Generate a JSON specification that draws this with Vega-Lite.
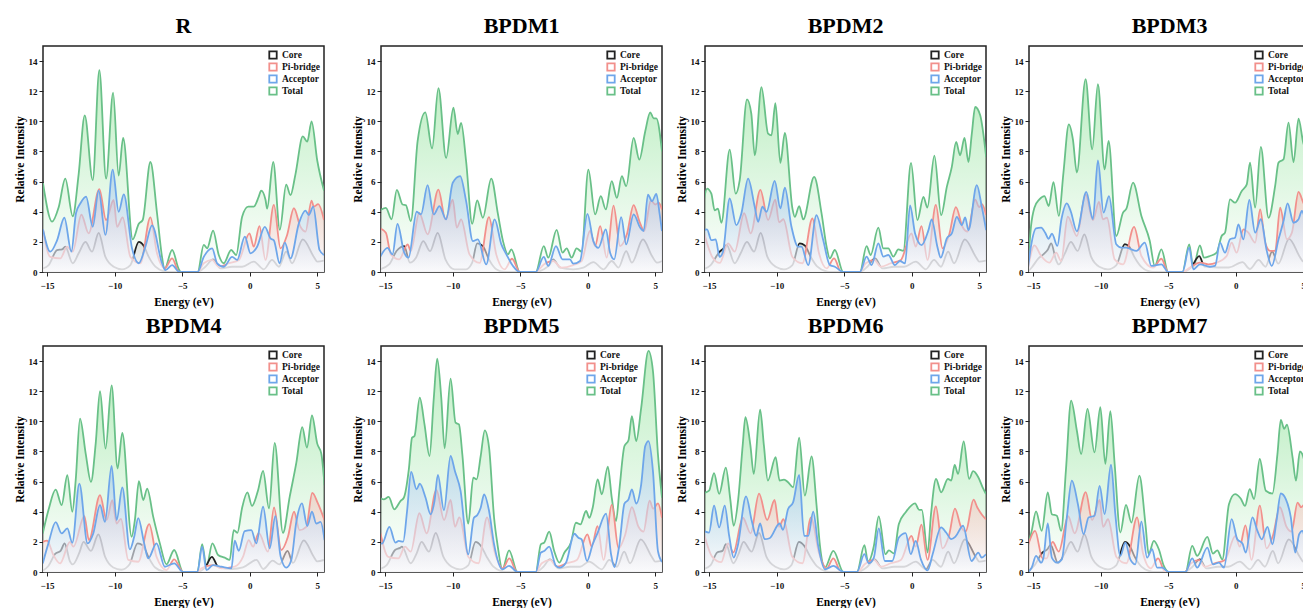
{
"$schema":"https://vega.github.io/schema/vega-lite/v6.json",
"background":"white",
"padding":{"left":13,"top":14,"right":0,"bottom":0},
"spacing":5,
"resolve":{"scale":{"color":"independent"},"legend":{"color":"independent"}},
"config":{
"view":{"stroke":"#222","strokeWidth":1.5},
"axis":{"grid":false,"domain":false,"labelFlush":false,"labelFont":"Liberation Serif","labelFontWeight":"bold","labelFontSize":9,"labelColor":"#111","titleFont":"Liberation Serif","titleFontWeight":"bold","titleFontSize":11.5,"titleColor":"#000","tickColor":"#222","tickSize":4,"tickWidth":1,"labelPadding":2},
"axisX":{"titlePadding":6,"labelPadding":5},
"axisY":{"titlePadding":3},
"title":{"font":"Liberation Serif","fontSize":22,"fontWeight":"bold","color":"#000","offset":8},
"line":{"strokeWidth":1.8},
"legend":{"orient":"top-right","offset":4,"padding":0,"labelFont":"Liberation Serif","labelFontWeight":"bold","labelFontSize":9.5,"labelColor":"#111","symbolType":"square","symbolSize":55,"symbolStrokeWidth":1.5,"clipHeight":10,"rowPadding":2,"labelOffset":4}
},
"vconcat":[
{"spacing":26,"resolve":{"scale":{"color":"independent"},"legend":{"color":"independent"}},"hconcat":[
{"title":"R","width":281,"height":226,
"encoding":{"x":{"field":"x","type":"quantitative","scale":{"domain":[-15.3,5.5],"nice":false,"zero":false},"axis":{"values":[-15,-10,-5,0,5],"title":"Energy (eV)"}},"y":{"field":"y","type":"quantitative","scale":{"domain":[0,15],"nice":false},"axis":{"values":[0,2,4,6,8,10,12,14],"title":"Relative Intensity"}}},
"layer":[
{"data":{"values":[{"x":-15.3,"y":5.9},{"x":-14.63,"y":3.34},{"x":-14.14,"y":4.3},{"x":-13.65,"y":6.2},{"x":-13.1,"y":3.7},{"x":-12.66,"y":6.5},{"x":-12.21,"y":10.4},{"x":-11.62,"y":6.1},{"x":-11.13,"y":13.4},{"x":-10.63,"y":6.2},{"x":-10.11,"y":11.9},{"x":-9.7,"y":6.4},{"x":-9.37,"y":8.9},{"x":-8.66,"y":2.17},{"x":-8.21,"y":3.2},{"x":-7.92,"y":3.45},{"x":-7.35,"y":7.3},{"x":-6.86,"y":3.9},{"x":-6.49,"y":1.0},{"x":-6.31,"y":0.18},{"x":-5.74,"y":1.46},{"x":-5.25,"y":0.18},{"x":-5.1,"y":0},{"x":-3.85,"y":0},{"x":-3.4,"y":1.8},{"x":-3.15,"y":1.57},{"x":-2.71,"y":2.74},{"x":-2.29,"y":1.13},{"x":-1.92,"y":0.58},{"x":-1.37,"y":1.46},{"x":-1.0,"y":1.13},{"x":-0.56,"y":3.67},{"x":-0.11,"y":4.34},{"x":0.3,"y":4.34},{"x":0.67,"y":5.0},{"x":0.85,"y":5.4},{"x":1.17,"y":4.8},{"x":1.29,"y":4.2},{"x":1.74,"y":7.3},{"x":2.23,"y":2.8},{"x":2.7,"y":5.8},{"x":3.02,"y":5.1},{"x":3.39,"y":6.5},{"x":3.93,"y":9.0},{"x":4.26,"y":8.65},{"x":4.58,"y":10.0},{"x":5.0,"y":7.4},{"x":5.5,"y":5.4}]},
"layer":[{"mark":{"type":"area","interpolate":"monotone","clip":true,"fill":{"gradient":"linear","x1":0,"y1":0,"x2":0,"y2":1,"stops":[{"offset":0,"color":"rgba(140,225,150,0.55)"},{"offset":1,"color":"rgba(255,255,255,0.6)"}]}}},
{"mark":{"type":"line","interpolate":"monotone","clip":true},"encoding":{"color":{"datum":"Total","scale":{"domain":["Core","Pi-bridge","Acceptor","Total"],"range":["#222222","#f2908c","#6ea6ea","#69c088"]},"legend":{"title":null,"encode":{"symbols":{"update":{"fill":{"signal":"datum.value==='Core'?'#ececec':datum.value==='Pi-bridge'?'#fde5e3':datum.value==='Acceptor'?'#dde9fb':'#dcf3e2'"},"fillOpacity":{"value":1}}}}}}}}]},
{"data":{"values":[{"x":-15.3,"y":0.24},{"x":-14.88,"y":0.46},{"x":-14.26,"y":1.46},{"x":-13.89,"y":1.5},{"x":-13.65,"y":1.68},{"x":-13.1,"y":0.58},{"x":-12.66,"y":1.24},{"x":-12.16,"y":2.0},{"x":-11.67,"y":1.35},{"x":-11.18,"y":2.6},{"x":-10.68,"y":1.0},{"x":-10.07,"y":0.35},{"x":-9.45,"y":0.18},{"x":-8.83,"y":0.46},{"x":-8.21,"y":2.0},{"x":-7.84,"y":1.73},{"x":-7.47,"y":1.0},{"x":-6.98,"y":0.35},{"x":-6.24,"y":0.02},{"x":-6.0,"y":0},{"x":-3.85,"y":0},{"x":-3.28,"y":0.35},{"x":-2.71,"y":0.84},{"x":-2.17,"y":0.24},{"x":-1.3,"y":0.35},{"x":-0.56,"y":0.35},{"x":0.3,"y":0.69},{"x":1.04,"y":0.18},{"x":1.66,"y":0.8},{"x":2.16,"y":0.35},{"x":2.7,"y":1.35},{"x":3.14,"y":0.58},{"x":3.93,"y":2.17},{"x":4.75,"y":1.0},{"x":5.0,"y":0.69},{"x":5.5,"y":0.75}]},
"layer":[{"mark":{"type":"area","interpolate":"monotone","clip":true,"fill":{"gradient":"linear","x1":0,"y1":0,"x2":0,"y2":1,"stops":[{"offset":0,"color":"rgba(165,165,165,0.35)"},{"offset":1,"color":"rgba(245,245,245,0.4)"}]}}},
{"mark":{"type":"line","interpolate":"monotone","clip":true},"encoding":{"color":{"datum":"Core","scale":{"domain":["Core","Pi-bridge","Acceptor","Total"],"range":["#222222","#f2908c","#6ea6ea","#69c088"]}}}}]},
{"data":{"values":[{"x":-15.3,"y":2.8},{"x":-14.76,"y":1.0},{"x":-14.02,"y":0.9},{"x":-13.52,"y":1.68},{"x":-13.1,"y":1.35},{"x":-12.46,"y":3.8},{"x":-11.92,"y":2.57},{"x":-11.13,"y":5.5},{"x":-10.63,"y":3.45},{"x":-10.07,"y":4.78},{"x":-9.82,"y":3.0},{"x":-9.4,"y":3.63},{"x":-8.83,"y":1.0},{"x":-8.09,"y":0.58},{"x":-7.35,"y":3.63},{"x":-6.86,"y":1.24},{"x":-6.29,"y":0.24},{"x":-5.74,"y":0.9},{"x":-5.25,"y":0.02},{"x":-5.1,"y":0},{"x":-3.85,"y":0},{"x":-3.4,"y":0.58},{"x":-2.78,"y":0.8},{"x":-2.29,"y":0.35},{"x":-1.55,"y":0.58},{"x":-0.8,"y":0.8},{"x":-0.02,"y":2.57},{"x":0.3,"y":1.68},{"x":0.72,"y":3.05},{"x":1.17,"y":0.8},{"x":1.79,"y":4.45},{"x":2.28,"y":1.57},{"x":2.77,"y":2.46},{"x":3.27,"y":4.23},{"x":3.76,"y":3.0},{"x":4.13,"y":2.68},{"x":4.58,"y":4.73},{"x":4.75,"y":4.34},{"x":5.07,"y":4.5},{"x":5.5,"y":3.45}]},
"layer":[{"mark":{"type":"area","interpolate":"monotone","clip":true,"fill":{"gradient":"linear","x1":0,"y1":0,"x2":0,"y2":1,"stops":[{"offset":0,"color":"rgba(245,170,165,0.4)"},{"offset":1,"color":"rgba(250,250,252,0.6)"}]}}},
{"mark":{"type":"line","interpolate":"monotone","clip":true},"encoding":{"color":{"datum":"Pi-bridge","scale":{"domain":["Core","Pi-bridge","Acceptor","Total"],"range":["#222222","#f2908c","#6ea6ea","#69c088"]}}}}]},
{"data":{"values":[{"x":-15.3,"y":2.83},{"x":-14.76,"y":1.35},{"x":-14.26,"y":2.1},{"x":-13.72,"y":3.6},{"x":-13.2,"y":1.35},{"x":-12.86,"y":3.9},{"x":-12.53,"y":4.56},{"x":-12.11,"y":5.0},{"x":-11.62,"y":3.0},{"x":-11.18,"y":5.4},{"x":-10.68,"y":2.46},{"x":-10.14,"y":6.8},{"x":-9.7,"y":4.0},{"x":-9.32,"y":5.15},{"x":-8.71,"y":1.57},{"x":-8.21,"y":0.58},{"x":-7.72,"y":1.68},{"x":-7.23,"y":3.1},{"x":-6.49,"y":0.58},{"x":-6.24,"y":0.13},{"x":-5.74,"y":0.46},{"x":-5.25,"y":0.02},{"x":-5.1,"y":0},{"x":-3.85,"y":0},{"x":-3.4,"y":1.0},{"x":-2.78,"y":1.57},{"x":-2.41,"y":0.58},{"x":-1.92,"y":0.35},{"x":-1.3,"y":1.0},{"x":-0.93,"y":0.8},{"x":-0.36,"y":2.35},{"x":0.06,"y":1.24},{"x":0.55,"y":1.68},{"x":1.12,"y":3.0},{"x":1.54,"y":2.23},{"x":1.79,"y":2.1},{"x":2.21,"y":0.58},{"x":2.6,"y":1.95},{"x":3.02,"y":0.9},{"x":3.64,"y":3.23},{"x":4.13,"y":4.07},{"x":4.38,"y":3.78},{"x":4.7,"y":4.34},{"x":5.17,"y":1.46},{"x":5.5,"y":1.13}]},
"layer":[{"mark":{"type":"area","interpolate":"monotone","clip":true,"fill":{"gradient":"linear","x1":0,"y1":0,"x2":0,"y2":1,"stops":[{"offset":0,"color":"rgba(150,190,235,0.5)"},{"offset":1,"color":"rgba(250,250,252,0.65)"}]}}},
{"mark":{"type":"line","interpolate":"monotone","clip":true},"encoding":{"color":{"datum":"Acceptor","scale":{"domain":["Core","Pi-bridge","Acceptor","Total"],"range":["#222222","#f2908c","#6ea6ea","#69c088"]}}}}]}
]},
{"spacing":12,"resolve":{"scale":{"color":"independent"},"legend":{"color":"independent"}},"hconcat":[
{"title":"BPDM1","width":281,"height":226,
"encoding":{"x":{"field":"x","type":"quantitative","scale":{"domain":[-15.3,5.5],"nice":false,"zero":false},"axis":{"values":[-15,-10,-5,0,5],"title":"Energy (eV)"}},"y":{"field":"y","type":"quantitative","scale":{"domain":[0,15],"nice":false},"axis":{"values":[0,2,4,6,8,10,12,14],"title":"Relative Intensity"}}},
"layer":[
{"data":{"values":[{"x":-15.39,"y":4.08},{"x":-14.94,"y":4.26},{"x":-14.52,"y":3.5},{"x":-14.13,"y":5.45},{"x":-13.7,"y":4.48},{"x":-13.46,"y":4.44},{"x":-13.09,"y":3.38},{"x":-12.59,"y":8.68},{"x":-12.02,"y":10.6},{"x":-11.52,"y":8.2},{"x":-11.05,"y":12.2},{"x":-10.48,"y":7.57},{"x":-9.94,"y":10.9},{"x":-9.62,"y":9.16},{"x":-9.37,"y":9.9},{"x":-9.0,"y":7.35},{"x":-8.55,"y":3.2},{"x":-8.18,"y":4.75},{"x":-7.76,"y":3.6},{"x":-7.14,"y":6.2},{"x":-6.64,"y":3.82},{"x":-6.27,"y":2.05},{"x":-5.9,"y":1.17},{"x":-5.65,"y":1.5},{"x":-5.03,"y":0},{"x":-3.84,"y":0},{"x":-3.25,"y":1.72},{"x":-2.92,"y":0.95},{"x":-2.3,"y":2.8},{"x":-1.86,"y":1.28},{"x":-1.56,"y":1.57},{"x":-1.19,"y":0.95},{"x":-0.82,"y":1.57},{"x":-0.45,"y":1.35},{"x":0.05,"y":6.8},{"x":0.55,"y":3.82},{"x":0.97,"y":5.03},{"x":1.34,"y":4.15},{"x":1.78,"y":6.03},{"x":2.16,"y":4.92},{"x":2.53,"y":6.36},{"x":2.85,"y":5.7},{"x":3.4,"y":8.9},{"x":3.82,"y":7.46},{"x":4.26,"y":9.34},{"x":4.63,"y":10.6},{"x":4.88,"y":10.2},{"x":5.08,"y":10.2},{"x":5.5,"y":8.0}]},
"layer":[{"mark":{"type":"area","interpolate":"monotone","clip":true,"fill":{"gradient":"linear","x1":0,"y1":0,"x2":0,"y2":1,"stops":[{"offset":0,"color":"rgba(140,225,150,0.55)"},{"offset":1,"color":"rgba(255,255,255,0.6)"}]}}},
{"mark":{"type":"line","interpolate":"monotone","clip":true},"encoding":{"color":{"datum":"Total","scale":{"domain":["Core","Pi-bridge","Acceptor","Total"],"range":["#222222","#f2908c","#6ea6ea","#69c088"]},"legend":{"title":null,"encode":{"symbols":{"update":{"fill":{"signal":"datum.value==='Core'?'#ececec':datum.value==='Pi-bridge'?'#fde5e3':datum.value==='Acceptor'?'#dde9fb':'#dcf3e2'"},"fillOpacity":{"value":1}}}}}}}}]},
{"data":{"values":[{"x":-15.39,"y":0.18},{"x":-14.7,"y":0.5},{"x":-14.15,"y":1.39},{"x":-13.58,"y":1.72},{"x":-13.16,"y":0.62},{"x":-12.71,"y":0.95},{"x":-12.17,"y":2.05},{"x":-11.67,"y":1.39},{"x":-11.1,"y":2.6},{"x":-10.53,"y":0.84},{"x":-9.86,"y":0.18},{"x":-9.0,"y":0.18},{"x":-8.55,"y":0.62},{"x":-8.18,"y":1.9},{"x":-7.76,"y":1.72},{"x":-7.31,"y":0.84},{"x":-6.77,"y":0.18},{"x":-6.15,"y":0},{"x":-3.84,"y":0},{"x":-3.25,"y":0.18},{"x":-2.8,"y":0.5},{"x":-2.55,"y":0.84},{"x":-2.06,"y":0.29},{"x":-1.07,"y":0.18},{"x":-0.32,"y":0.29},{"x":0.42,"y":0.66},{"x":1.16,"y":0.18},{"x":1.78,"y":0.73},{"x":2.28,"y":0.29},{"x":2.85,"y":1.39},{"x":3.27,"y":0.62},{"x":4.09,"y":2.16},{"x":4.76,"y":1.06},{"x":5.13,"y":0.62},{"x":5.5,"y":0.73}]},
"layer":[{"mark":{"type":"area","interpolate":"monotone","clip":true,"fill":{"gradient":"linear","x1":0,"y1":0,"x2":0,"y2":1,"stops":[{"offset":0,"color":"rgba(165,165,165,0.35)"},{"offset":1,"color":"rgba(245,245,245,0.4)"}]}}},
{"mark":{"type":"line","interpolate":"monotone","clip":true},"encoding":{"color":{"datum":"Core","scale":{"domain":["Core","Pi-bridge","Acceptor","Total"],"range":["#222222","#f2908c","#6ea6ea","#69c088"]}}}}]},
{"data":{"values":[{"x":-15.39,"y":2.9},{"x":-14.94,"y":2.6},{"x":-14.57,"y":1.17},{"x":-13.95,"y":0.84},{"x":-13.33,"y":1.83},{"x":-13.09,"y":1.39},{"x":-12.47,"y":3.93},{"x":-11.85,"y":2.5},{"x":-11.05,"y":5.47},{"x":-10.53,"y":3.49},{"x":-9.99,"y":4.8},{"x":-9.69,"y":2.94},{"x":-9.37,"y":3.49},{"x":-8.75,"y":1.17},{"x":-8.0,"y":0.6},{"x":-7.31,"y":3.64},{"x":-6.77,"y":1.17},{"x":-6.15,"y":0.18},{"x":-5.6,"y":0.88},{"x":-5.03,"y":0},{"x":-3.84,"y":0},{"x":-3.25,"y":0.5},{"x":-2.55,"y":0.73},{"x":-1.93,"y":0.29},{"x":-1.07,"y":0.46},{"x":-0.45,"y":0.73},{"x":0.17,"y":2.72},{"x":0.55,"y":1.72},{"x":0.92,"y":3.05},{"x":1.41,"y":0.95},{"x":1.91,"y":4.41},{"x":2.4,"y":1.72},{"x":2.9,"y":2.5},{"x":3.4,"y":4.44},{"x":3.84,"y":3.33},{"x":4.19,"y":2.72},{"x":4.68,"y":4.75},{"x":5.0,"y":4.48},{"x":5.25,"y":4.6},{"x":5.5,"y":4.15}]},
"layer":[{"mark":{"type":"area","interpolate":"monotone","clip":true,"fill":{"gradient":"linear","x1":0,"y1":0,"x2":0,"y2":1,"stops":[{"offset":0,"color":"rgba(245,170,165,0.4)"},{"offset":1,"color":"rgba(250,250,252,0.6)"}]}}},
{"mark":{"type":"line","interpolate":"monotone","clip":true},"encoding":{"color":{"datum":"Pi-bridge","scale":{"domain":["Core","Pi-bridge","Acceptor","Total"],"range":["#222222","#f2908c","#6ea6ea","#69c088"]}}}}]},
{"data":{"values":[{"x":-15.39,"y":0.95},{"x":-14.82,"y":1.6},{"x":-14.45,"y":1.17},{"x":-14.08,"y":3.2},{"x":-13.58,"y":1.28},{"x":-13.26,"y":0.95},{"x":-12.66,"y":4.0},{"x":-12.34,"y":3.82},{"x":-11.85,"y":5.76},{"x":-11.4,"y":3.82},{"x":-10.98,"y":4.37},{"x":-10.48,"y":3.49},{"x":-9.99,"y":5.92},{"x":-9.44,"y":6.36},{"x":-9.0,"y":4.7},{"x":-8.5,"y":2.05},{"x":-8.13,"y":2.16},{"x":-7.51,"y":0.5},{"x":-6.89,"y":3.49},{"x":-6.39,"y":1.83},{"x":-6.02,"y":1.17},{"x":-5.53,"y":0.4},{"x":-5.03,"y":0},{"x":-3.84,"y":0},{"x":-3.25,"y":1.0},{"x":-2.92,"y":0.4},{"x":-2.35,"y":1.72},{"x":-1.86,"y":0.84},{"x":-1.31,"y":0.84},{"x":-1.07,"y":0.55},{"x":-0.57,"y":0.73},{"x":-0.02,"y":3.86},{"x":0.42,"y":2.05},{"x":0.79,"y":1.6},{"x":1.34,"y":2.83},{"x":1.66,"y":1.28},{"x":1.96,"y":0.84},{"x":2.48,"y":3.64},{"x":2.85,"y":1.83},{"x":3.4,"y":3.82},{"x":3.89,"y":2.94},{"x":4.14,"y":2.72},{"x":4.46,"y":5.14},{"x":4.76,"y":4.7},{"x":5.08,"y":5.19},{"x":5.33,"y":3.82},{"x":5.5,"y":2.72}]},
"layer":[{"mark":{"type":"area","interpolate":"monotone","clip":true,"fill":{"gradient":"linear","x1":0,"y1":0,"x2":0,"y2":1,"stops":[{"offset":0,"color":"rgba(150,190,235,0.5)"},{"offset":1,"color":"rgba(250,250,252,0.65)"}]}}},
{"mark":{"type":"line","interpolate":"monotone","clip":true},"encoding":{"color":{"datum":"Acceptor","scale":{"domain":["Core","Pi-bridge","Acceptor","Total"],"range":["#222222","#f2908c","#6ea6ea","#69c088"]}}}}]}
]},
{"title":"BPDM2","width":281,"height":226,
"encoding":{"x":{"field":"x","type":"quantitative","scale":{"domain":[-15.3,5.5],"nice":false,"zero":false},"axis":{"values":[-15,-10,-5,0,5],"title":"Energy (eV)"}},"y":{"field":"y","type":"quantitative","scale":{"domain":[0,15],"nice":false},"axis":{"values":[0,2,4,6,8,10,12,14],"title":"Relative Intensity"}}},
"layer":[
{"data":{"values":[{"x":-15.38,"y":4.77},{"x":-15.15,"y":5.54},{"x":-14.83,"y":5.2},{"x":-14.59,"y":4.1},{"x":-14.34,"y":4.2},{"x":-14.09,"y":3.27},{"x":-13.47,"y":8.12},{"x":-13.03,"y":5.2},{"x":-12.73,"y":6.1},{"x":-12.19,"y":11.46},{"x":-11.87,"y":10.5},{"x":-11.62,"y":7.75},{"x":-11.12,"y":12.27},{"x":-10.63,"y":9.18},{"x":-10.38,"y":9.07},{"x":-10.09,"y":11.2},{"x":-9.72,"y":7.24},{"x":-9.39,"y":9.23},{"x":-8.83,"y":4.22},{"x":-8.65,"y":3.66},{"x":-8.33,"y":4.37},{"x":-8.03,"y":3.49},{"x":-7.22,"y":6.31},{"x":-6.67,"y":3.88},{"x":-6.3,"y":1.68},{"x":-6.06,"y":0.9},{"x":-5.69,"y":1.46},{"x":-5.07,"y":0},{"x":-3.83,"y":0},{"x":-3.34,"y":1.72},{"x":-3.04,"y":1.13},{"x":-2.47,"y":2.94},{"x":-2.1,"y":1.57},{"x":-1.73,"y":1.57},{"x":-1.36,"y":1.02},{"x":-0.99,"y":1.5},{"x":-0.62,"y":1.41},{"x":-0.05,"y":7.24},{"x":0.42,"y":3.44},{"x":0.87,"y":4.99},{"x":1.16,"y":4.28},{"x":1.68,"y":7.73},{"x":2.18,"y":3.77},{"x":2.6,"y":5.65},{"x":2.97,"y":6.98},{"x":3.29,"y":8.63},{"x":3.58,"y":7.75},{"x":3.91,"y":8.9},{"x":4.2,"y":7.3},{"x":4.45,"y":9.18},{"x":4.7,"y":10.95},{"x":5.07,"y":10.4},{"x":5.51,"y":7.64}]},
"layer":[{"mark":{"type":"area","interpolate":"monotone","clip":true,"fill":{"gradient":"linear","x1":0,"y1":0,"x2":0,"y2":1,"stops":[{"offset":0,"color":"rgba(140,225,150,0.55)"},{"offset":1,"color":"rgba(255,255,255,0.6)"}]}}},
{"mark":{"type":"line","interpolate":"monotone","clip":true},"encoding":{"color":{"datum":"Total","scale":{"domain":["Core","Pi-bridge","Acceptor","Total"],"range":["#222222","#f2908c","#6ea6ea","#69c088"]},"legend":{"title":null,"encode":{"symbols":{"update":{"fill":{"signal":"datum.value==='Core'?'#ececec':datum.value==='Pi-bridge'?'#fde5e3':datum.value==='Acceptor'?'#dde9fb':'#dcf3e2'"},"fillOpacity":{"value":1}}}}}}}}]},
{"data":{"values":[{"x":-15.38,"y":0.2},{"x":-14.88,"y":0.46},{"x":-14.26,"y":1.3},{"x":-13.89,"y":1.6},{"x":-13.7,"y":1.8},{"x":-13.1,"y":0.58},{"x":-12.66,"y":1.24},{"x":-12.2,"y":2.0},{"x":-11.67,"y":1.35},{"x":-11.18,"y":2.6},{"x":-10.68,"y":1.0},{"x":-10.07,"y":0.35},{"x":-9.45,"y":0.18},{"x":-8.83,"y":0.46},{"x":-8.3,"y":1.9},{"x":-7.9,"y":1.75},{"x":-7.47,"y":1.0},{"x":-6.98,"y":0.35},{"x":-6.24,"y":0.02},{"x":-6.0,"y":0},{"x":-3.85,"y":0},{"x":-3.28,"y":0.35},{"x":-2.71,"y":0.9},{"x":-2.17,"y":0.24},{"x":-1.3,"y":0.35},{"x":-0.56,"y":0.35},{"x":0.3,"y":0.69},{"x":1.04,"y":0.18},{"x":1.66,"y":0.8},{"x":2.16,"y":0.35},{"x":2.7,"y":1.35},{"x":3.14,"y":0.58},{"x":3.93,"y":2.17},{"x":4.75,"y":1.0},{"x":5.0,"y":0.69},{"x":5.5,"y":0.75}]},
"layer":[{"mark":{"type":"area","interpolate":"monotone","clip":true,"fill":{"gradient":"linear","x1":0,"y1":0,"x2":0,"y2":1,"stops":[{"offset":0,"color":"rgba(165,165,165,0.35)"},{"offset":1,"color":"rgba(245,245,245,0.4)"}]}}},
{"mark":{"type":"line","interpolate":"monotone","clip":true},"encoding":{"color":{"datum":"Core","scale":{"domain":["Core","Pi-bridge","Acceptor","Total"],"range":["#222222","#f2908c","#6ea6ea","#69c088"]}}}}]},
{"data":{"values":[{"x":-15.38,"y":2.6},{"x":-14.76,"y":1.0},{"x":-14.2,"y":0.6},{"x":-13.6,"y":1.9},{"x":-13.1,"y":1.35},{"x":-12.4,"y":3.9},{"x":-11.92,"y":2.57},{"x":-11.2,"y":5.45},{"x":-10.63,"y":3.45},{"x":-10.1,"y":4.8},{"x":-9.82,"y":3.3},{"x":-9.5,"y":3.5},{"x":-8.83,"y":1.0},{"x":-8.09,"y":0.58},{"x":-7.35,"y":3.55},{"x":-6.86,"y":1.24},{"x":-6.29,"y":0.24},{"x":-5.74,"y":0.9},{"x":-5.25,"y":0.02},{"x":-5.1,"y":0},{"x":-3.85,"y":0},{"x":-3.4,"y":0.58},{"x":-2.78,"y":0.8},{"x":-2.29,"y":0.35},{"x":-1.55,"y":0.58},{"x":-0.8,"y":0.8},{"x":-0.02,"y":2.57},{"x":0.3,"y":1.68},{"x":0.72,"y":3.05},{"x":1.17,"y":0.8},{"x":1.79,"y":4.45},{"x":2.28,"y":1.57},{"x":2.77,"y":2.46},{"x":3.27,"y":4.3},{"x":3.76,"y":3.0},{"x":4.13,"y":2.68},{"x":4.7,"y":4.8},{"x":5.0,"y":4.3},{"x":5.2,"y":4.5},{"x":5.5,"y":3.8}]},
"layer":[{"mark":{"type":"area","interpolate":"monotone","clip":true,"fill":{"gradient":"linear","x1":0,"y1":0,"x2":0,"y2":1,"stops":[{"offset":0,"color":"rgba(245,170,165,0.4)"},{"offset":1,"color":"rgba(250,250,252,0.6)"}]}}},
{"mark":{"type":"line","interpolate":"monotone","clip":true},"encoding":{"color":{"datum":"Pi-bridge","scale":{"domain":["Core","Pi-bridge","Acceptor","Total"],"range":["#222222","#f2908c","#6ea6ea","#69c088"]}}}}]},
{"data":{"values":[{"x":-15.38,"y":2.78},{"x":-15.15,"y":2.83},{"x":-14.83,"y":2.12},{"x":-14.51,"y":2.16},{"x":-14.22,"y":1.0},{"x":-13.97,"y":1.35},{"x":-13.47,"y":4.88},{"x":-12.98,"y":3.11},{"x":-12.61,"y":3.88},{"x":-12.11,"y":6.2},{"x":-11.62,"y":4.33},{"x":-11.37,"y":3.33},{"x":-11.05,"y":4.33},{"x":-10.75,"y":4.0},{"x":-10.14,"y":6.05},{"x":-9.72,"y":4.22},{"x":-9.39,"y":5.6},{"x":-8.9,"y":3.0},{"x":-8.4,"y":1.68},{"x":-8.16,"y":1.68},{"x":-7.66,"y":0.46},{"x":-7.05,"y":3.77},{"x":-6.55,"y":2.12},{"x":-6.06,"y":0.46},{"x":-5.69,"y":0.35},{"x":-5.07,"y":0},{"x":-3.83,"y":0},{"x":-3.34,"y":1.02},{"x":-2.97,"y":0.46},{"x":-2.47,"y":1.9},{"x":-2.1,"y":1.02},{"x":-1.73,"y":1.13},{"x":-1.24,"y":0.46},{"x":-0.87,"y":0.73},{"x":-0.49,"y":0.57},{"x":-0.12,"y":4.42},{"x":0.25,"y":2.56},{"x":0.74,"y":1.79},{"x":1.24,"y":2.78},{"x":1.48,"y":3.49},{"x":1.9,"y":1.68},{"x":2.15,"y":0.95},{"x":2.6,"y":2.23},{"x":2.97,"y":2.56},{"x":3.34,"y":3.66},{"x":3.71,"y":3.11},{"x":3.96,"y":3.62},{"x":4.2,"y":2.78},{"x":4.82,"y":5.76},{"x":5.19,"y":4.33},{"x":5.51,"y":2.78}]},
"layer":[{"mark":{"type":"area","interpolate":"monotone","clip":true,"fill":{"gradient":"linear","x1":0,"y1":0,"x2":0,"y2":1,"stops":[{"offset":0,"color":"rgba(150,190,235,0.5)"},{"offset":1,"color":"rgba(250,250,252,0.65)"}]}}},
{"mark":{"type":"line","interpolate":"monotone","clip":true},"encoding":{"color":{"datum":"Acceptor","scale":{"domain":["Core","Pi-bridge","Acceptor","Total"],"range":["#222222","#f2908c","#6ea6ea","#69c088"]}}}}]}
]},
{"title":"BPDM3","width":281,"height":226,
"encoding":{"x":{"field":"x","type":"quantitative","scale":{"domain":[-15.3,5.5],"nice":false,"zero":false},"axis":{"values":[-15,-10,-5,0,5],"title":"Energy (eV)"}},"y":{"field":"y","type":"quantitative","scale":{"domain":[0,15],"nice":false},"axis":{"values":[0,2,4,6,8,10,12,14],"title":"Relative Intensity"}}},
"layer":[
{"data":{"values":[{"x":-15.4,"y":0.07},{"x":-15.15,"y":3.05},{"x":-14.9,"y":4.27},{"x":-14.53,"y":4.82},{"x":-14.16,"y":5.04},{"x":-13.84,"y":4.38},{"x":-13.49,"y":5.97},{"x":-13.09,"y":3.72},{"x":-12.75,"y":6.6},{"x":-12.35,"y":9.8},{"x":-12.05,"y":8.8},{"x":-11.76,"y":6.6},{"x":-11.11,"y":12.8},{"x":-10.62,"y":8.14},{"x":-10.2,"y":12.46},{"x":-9.7,"y":6.81},{"x":-9.41,"y":8.7},{"x":-8.84,"y":2.39},{"x":-8.34,"y":3.94},{"x":-8.09,"y":4.2},{"x":-7.6,"y":5.93},{"x":-6.98,"y":3.72},{"x":-6.36,"y":2.06},{"x":-5.99,"y":0.4},{"x":-5.5,"y":1.5},{"x":-5.0,"y":0},{"x":-3.94,"y":0},{"x":-3.44,"y":1.84},{"x":-3.14,"y":0.29},{"x":-2.65,"y":1.77},{"x":-2.35,"y":0.95},{"x":-1.91,"y":1.06},{"x":-1.41,"y":1.28},{"x":-1.04,"y":2.39},{"x":-0.79,"y":2.61},{"x":-0.42,"y":4.82},{"x":-0.05,"y":4.6},{"x":0.45,"y":5.38},{"x":0.82,"y":5.82},{"x":1.06,"y":7.26},{"x":1.44,"y":4.27},{"x":1.86,"y":8.3},{"x":2.43,"y":3.6},{"x":2.92,"y":5.71},{"x":3.17,"y":7.26},{"x":3.54,"y":7.48},{"x":3.91,"y":9.91},{"x":4.28,"y":7.3},{"x":4.65,"y":10.18},{"x":5.0,"y":8.58},{"x":5.25,"y":8.0},{"x":5.5,"y":7.0}]},
"layer":[{"mark":{"type":"area","interpolate":"monotone","clip":true,"fill":{"gradient":"linear","x1":0,"y1":0,"x2":0,"y2":1,"stops":[{"offset":0,"color":"rgba(140,225,150,0.55)"},{"offset":1,"color":"rgba(255,255,255,0.6)"}]}}},
{"mark":{"type":"line","interpolate":"monotone","clip":true},"encoding":{"color":{"datum":"Total","scale":{"domain":["Core","Pi-bridge","Acceptor","Total"],"range":["#222222","#f2908c","#6ea6ea","#69c088"]},"legend":{"title":null,"encode":{"symbols":{"update":{"fill":{"signal":"datum.value==='Core'?'#ececec':datum.value==='Pi-bridge'?'#fde5e3':datum.value==='Acceptor'?'#dde9fb':'#dcf3e2'"},"fillOpacity":{"value":1}}}}}}}}]},
{"data":{"values":[{"x":-15.4,"y":0},{"x":-15.1,"y":0.3},{"x":-14.6,"y":0.9},{"x":-14.2,"y":1.2},{"x":-13.9,"y":1.5},{"x":-13.66,"y":1.9},{"x":-13.3,"y":0.8},{"x":-13.1,"y":0.5},{"x":-12.66,"y":1.2},{"x":-12.2,"y":2.0},{"x":-11.7,"y":1.4},{"x":-11.2,"y":2.5},{"x":-10.7,"y":1.0},{"x":-10.1,"y":0.35},{"x":-9.45,"y":0.18},{"x":-8.83,"y":0.46},{"x":-8.21,"y":1.85},{"x":-7.9,"y":1.7},{"x":-7.5,"y":1.0},{"x":-7.0,"y":0.35},{"x":-6.3,"y":0.02},{"x":-6.0,"y":0},{"x":-3.9,"y":0},{"x":-3.3,"y":0.3},{"x":-2.7,"y":1.05},{"x":-2.3,"y":0.35},{"x":-1.3,"y":0.3},{"x":-0.5,"y":0.3},{"x":0.5,"y":0.65},{"x":1.05,"y":0.2},{"x":1.7,"y":0.8},{"x":2.2,"y":0.35},{"x":2.7,"y":1.35},{"x":3.15,"y":0.55},{"x":3.95,"y":2.2},{"x":4.75,"y":1.0},{"x":5.0,"y":0.7},{"x":5.5,"y":0.75}]},
"layer":[{"mark":{"type":"area","interpolate":"monotone","clip":true,"fill":{"gradient":"linear","x1":0,"y1":0,"x2":0,"y2":1,"stops":[{"offset":0,"color":"rgba(165,165,165,0.35)"},{"offset":1,"color":"rgba(245,245,245,0.4)"}]}}},
{"mark":{"type":"line","interpolate":"monotone","clip":true},"encoding":{"color":{"datum":"Core","scale":{"domain":["Core","Pi-bridge","Acceptor","Total"],"range":["#222222","#f2908c","#6ea6ea","#69c088"]}}}}]},
{"data":{"values":[{"x":-15.4,"y":0.07},{"x":-14.9,"y":1.77},{"x":-14.4,"y":1.06},{"x":-13.79,"y":0.62},{"x":-13.29,"y":1.28},{"x":-12.92,"y":0.73},{"x":-12.43,"y":3.67},{"x":-11.76,"y":2.39},{"x":-11.11,"y":5.15},{"x":-10.57,"y":3.45},{"x":-10.12,"y":4.65},{"x":-9.83,"y":3.5},{"x":-9.53,"y":3.6},{"x":-8.96,"y":0.84},{"x":-8.34,"y":0.51},{"x":-7.52,"y":2.99},{"x":-6.98,"y":1.06},{"x":-6.11,"y":0.29},{"x":-5.5,"y":0.88},{"x":-5.0,"y":0},{"x":-3.94,"y":0},{"x":-3.39,"y":0.29},{"x":-2.65,"y":0.62},{"x":-2.03,"y":0.51},{"x":-1.41,"y":0.62},{"x":-0.67,"y":1.06},{"x":-0.3,"y":1.95},{"x":0.07,"y":1.28},{"x":0.57,"y":2.83},{"x":0.94,"y":2.61},{"x":1.44,"y":1.95},{"x":1.81,"y":4.16},{"x":2.18,"y":1.95},{"x":2.55,"y":1.4},{"x":2.92,"y":1.4},{"x":3.29,"y":4.27},{"x":3.79,"y":2.17},{"x":4.16,"y":2.61},{"x":4.65,"y":5.31},{"x":5.0,"y":4.6},{"x":5.5,"y":3.8}]},
"layer":[{"mark":{"type":"area","interpolate":"monotone","clip":true,"fill":{"gradient":"linear","x1":0,"y1":0,"x2":0,"y2":1,"stops":[{"offset":0,"color":"rgba(245,170,165,0.4)"},{"offset":1,"color":"rgba(250,250,252,0.6)"}]}}},
{"mark":{"type":"line","interpolate":"monotone","clip":true},"encoding":{"color":{"datum":"Pi-bridge","scale":{"domain":["Core","Pi-bridge","Acceptor","Total"],"range":["#222222","#f2908c","#6ea6ea","#69c088"]}}}}]},
{"data":{"values":[{"x":-15.4,"y":0.07},{"x":-15.15,"y":1.73},{"x":-14.78,"y":2.9},{"x":-14.4,"y":2.95},{"x":-14.1,"y":2.6},{"x":-13.85,"y":2.2},{"x":-13.6,"y":2.55},{"x":-13.2,"y":1.73},{"x":-12.9,"y":3.5},{"x":-12.5,"y":4.56},{"x":-12.2,"y":4.0},{"x":-11.76,"y":2.7},{"x":-11.06,"y":5.31},{"x":-10.57,"y":3.5},{"x":-10.2,"y":7.41},{"x":-9.78,"y":3.94},{"x":-9.38,"y":5.04},{"x":-8.84,"y":1.84},{"x":-8.47,"y":1.62},{"x":-8.09,"y":1.62},{"x":-7.85,"y":1.55},{"x":-7.35,"y":1.4},{"x":-6.73,"y":1.95},{"x":-6.24,"y":0.4},{"x":-5.5,"y":0.51},{"x":-5.0,"y":0},{"x":-3.94,"y":0},{"x":-3.44,"y":1.62},{"x":-3.14,"y":0.18},{"x":-2.65,"y":0.51},{"x":-1.91,"y":0.35},{"x":-1.53,"y":0.4},{"x":-1.16,"y":1.95},{"x":-0.79,"y":1.28},{"x":-0.42,"y":2.17},{"x":-0.05,"y":2.28},{"x":0.2,"y":3.16},{"x":0.57,"y":2.17},{"x":1.01,"y":4.78},{"x":1.44,"y":2.61},{"x":1.86,"y":3.5},{"x":2.3,"y":1.4},{"x":2.67,"y":0.4},{"x":3.17,"y":2.17},{"x":3.54,"y":3.38},{"x":3.84,"y":4.56},{"x":4.28,"y":3.27},{"x":4.65,"y":3.5},{"x":4.9,"y":4.05},{"x":5.2,"y":3.4},{"x":5.5,"y":3.0}]},
"layer":[{"mark":{"type":"area","interpolate":"monotone","clip":true,"fill":{"gradient":"linear","x1":0,"y1":0,"x2":0,"y2":1,"stops":[{"offset":0,"color":"rgba(150,190,235,0.5)"},{"offset":1,"color":"rgba(250,250,252,0.65)"}]}}},
{"mark":{"type":"line","interpolate":"monotone","clip":true},"encoding":{"color":{"datum":"Acceptor","scale":{"domain":["Core","Pi-bridge","Acceptor","Total"],"range":["#222222","#f2908c","#6ea6ea","#69c088"]}}}}]}
]}
]}
]},
{"spacing":26,"resolve":{"scale":{"color":"independent"},"legend":{"color":"independent"}},"hconcat":[
{"title":"BPDM4","width":281,"height":226,
"encoding":{"x":{"field":"x","type":"quantitative","scale":{"domain":[-15.3,5.5],"nice":false,"zero":false},"axis":{"values":[-15,-10,-5,0,5],"title":"Energy (eV)"}},"y":{"field":"y","type":"quantitative","scale":{"domain":[0,15],"nice":false},"axis":{"values":[0,2,4,6,8,10,12,14],"title":"Relative Intensity"}}},
"layer":[
{"data":{"values":[{"x":-15.32,"y":2.56},{"x":-14.9,"y":4.1},{"x":-14.36,"y":5.47},{"x":-13.92,"y":4.44},{"x":-13.5,"y":6.42},{"x":-13.13,"y":4.0},{"x":-12.88,"y":6.09},{"x":-12.56,"y":10.18},{"x":-12.14,"y":7.86},{"x":-11.75,"y":5.98},{"x":-11.4,"y":8.52},{"x":-11.08,"y":12.0},{"x":-10.67,"y":8.19},{"x":-10.22,"y":12.38},{"x":-9.78,"y":6.87},{"x":-9.43,"y":9.23},{"x":-8.74,"y":2.34},{"x":-8.5,"y":3.44},{"x":-8.2,"y":6.03},{"x":-7.88,"y":4.77},{"x":-7.59,"y":5.54},{"x":-7.14,"y":3.66},{"x":-6.65,"y":1.9},{"x":-6.16,"y":0.51},{"x":-5.59,"y":1.46},{"x":-4.93,"y":0},{"x":-3.87,"y":0},{"x":-3.52,"y":1.85},{"x":-3.2,"y":0.35},{"x":-2.76,"y":1.9},{"x":-2.34,"y":1.13},{"x":-1.85,"y":0.95},{"x":-1.48,"y":0.8},{"x":-1.18,"y":2.78},{"x":-0.91,"y":2.6},{"x":-0.57,"y":4.22},{"x":-0.17,"y":5.28},{"x":0.17,"y":4.39},{"x":0.62,"y":5.43},{"x":0.99,"y":6.71},{"x":1.43,"y":4.22},{"x":1.85,"y":8.57},{"x":2.46,"y":2.6},{"x":2.96,"y":4.99},{"x":3.45,"y":7.24},{"x":3.89,"y":9.62},{"x":4.24,"y":8.26},{"x":4.61,"y":10.4},{"x":5.0,"y":8.52},{"x":5.3,"y":7.86},{"x":5.54,"y":5.76}]},
"layer":[{"mark":{"type":"area","interpolate":"monotone","clip":true,"fill":{"gradient":"linear","x1":0,"y1":0,"x2":0,"y2":1,"stops":[{"offset":0,"color":"rgba(140,225,150,0.55)"},{"offset":1,"color":"rgba(255,255,255,0.6)"}]}}},
{"mark":{"type":"line","interpolate":"monotone","clip":true},"encoding":{"color":{"datum":"Total","scale":{"domain":["Core","Pi-bridge","Acceptor","Total"],"range":["#222222","#f2908c","#6ea6ea","#69c088"]},"legend":{"title":null,"encode":{"symbols":{"update":{"fill":{"signal":"datum.value==='Core'?'#ececec':datum.value==='Pi-bridge'?'#fde5e3':datum.value==='Acceptor'?'#dde9fb':'#dcf3e2'"},"fillOpacity":{"value":1}}}}}}}}]},
{"data":{"values":[{"x":-15.3,"y":0.1},{"x":-14.9,"y":0.4},{"x":-14.4,"y":1.2},{"x":-14.0,"y":1.4},{"x":-13.7,"y":1.9},{"x":-13.3,"y":0.7},{"x":-13.1,"y":0.5},{"x":-12.6,"y":1.3},{"x":-12.3,"y":2.0},{"x":-11.75,"y":1.4},{"x":-11.2,"y":2.5},{"x":-10.7,"y":1.0},{"x":-10.1,"y":0.3},{"x":-9.5,"y":0.15},{"x":-8.9,"y":0.5},{"x":-8.3,"y":1.9},{"x":-7.9,"y":1.75},{"x":-7.5,"y":1.0},{"x":-7.0,"y":0.3},{"x":-6.3,"y":0.02},{"x":-6.0,"y":0},{"x":-3.9,"y":0},{"x":-3.3,"y":0.3},{"x":-2.8,"y":1.0},{"x":-2.3,"y":0.3},{"x":-1.3,"y":0.2},{"x":-0.5,"y":0.3},{"x":0.5,"y":0.8},{"x":1.0,"y":0.2},{"x":1.7,"y":0.75},{"x":2.2,"y":0.5},{"x":2.8,"y":1.4},{"x":3.2,"y":0.6},{"x":4.0,"y":2.1},{"x":4.75,"y":1.0},{"x":5.0,"y":0.7},{"x":5.5,"y":0.8}]},
"layer":[{"mark":{"type":"area","interpolate":"monotone","clip":true,"fill":{"gradient":"linear","x1":0,"y1":0,"x2":0,"y2":1,"stops":[{"offset":0,"color":"rgba(165,165,165,0.35)"},{"offset":1,"color":"rgba(245,245,245,0.4)"}]}}},
{"mark":{"type":"line","interpolate":"monotone","clip":true},"encoding":{"color":{"datum":"Core","scale":{"domain":["Core","Pi-bridge","Acceptor","Total"],"range":["#222222","#f2908c","#6ea6ea","#69c088"]}}}}]},
{"data":{"values":[{"x":-15.32,"y":2.0},{"x":-15.0,"y":2.08},{"x":-14.53,"y":1.13},{"x":-14.04,"y":0.57},{"x":-13.3,"y":2.0},{"x":-13.05,"y":1.68},{"x":-12.24,"y":3.71},{"x":-11.9,"y":2.12},{"x":-11.08,"y":5.1},{"x":-10.59,"y":3.44},{"x":-10.17,"y":4.77},{"x":-9.85,"y":3.22},{"x":-9.53,"y":3.53},{"x":-8.99,"y":0.8},{"x":-8.25,"y":0.68},{"x":-7.44,"y":3.18},{"x":-6.9,"y":1.02},{"x":-6.16,"y":0.13},{"x":-5.59,"y":0.84},{"x":-4.93,"y":0},{"x":-3.87,"y":0},{"x":-3.57,"y":0.24},{"x":-2.71,"y":0.46},{"x":-2.09,"y":0.24},{"x":-1.11,"y":0.35},{"x":-0.49,"y":1.02},{"x":-0.07,"y":2.12},{"x":0.25,"y":1.68},{"x":0.67,"y":2.6},{"x":1.35,"y":1.35},{"x":1.8,"y":4.28},{"x":2.34,"y":1.46},{"x":2.83,"y":2.34},{"x":3.28,"y":4.0},{"x":3.69,"y":2.78},{"x":4.19,"y":3.0},{"x":4.63,"y":5.25},{"x":5.05,"y":4.55},{"x":5.54,"y":3.44}]},
"layer":[{"mark":{"type":"area","interpolate":"monotone","clip":true,"fill":{"gradient":"linear","x1":0,"y1":0,"x2":0,"y2":1,"stops":[{"offset":0,"color":"rgba(245,170,165,0.4)"},{"offset":1,"color":"rgba(250,250,252,0.6)"}]}}},
{"mark":{"type":"line","interpolate":"monotone","clip":true},"encoding":{"color":{"datum":"Pi-bridge","scale":{"domain":["Core","Pi-bridge","Acceptor","Total"],"range":["#222222","#f2908c","#6ea6ea","#69c088"]}}}}]},
{"data":{"values":[{"x":-15.32,"y":0.57},{"x":-14.9,"y":1.9},{"x":-14.36,"y":3.31},{"x":-13.92,"y":2.56},{"x":-13.5,"y":2.89},{"x":-13.13,"y":1.94},{"x":-12.61,"y":5.87},{"x":-12.0,"y":1.9},{"x":-11.58,"y":2.56},{"x":-11.08,"y":4.44},{"x":-10.71,"y":3.33},{"x":-10.22,"y":7.04},{"x":-9.85,"y":3.44},{"x":-9.43,"y":5.61},{"x":-8.87,"y":1.5},{"x":-8.55,"y":2.34},{"x":-8.25,"y":3.58},{"x":-7.81,"y":1.9},{"x":-7.51,"y":0.9},{"x":-6.9,"y":1.9},{"x":-6.28,"y":0.35},{"x":-5.59,"y":0.57},{"x":-4.93,"y":0},{"x":-3.87,"y":0},{"x":-3.52,"y":1.68},{"x":-3.2,"y":0.13},{"x":-2.71,"y":0.46},{"x":-2.09,"y":0.35},{"x":-1.35,"y":0.24},{"x":-1.11,"y":2.08},{"x":-0.81,"y":1.41},{"x":-0.37,"y":2.72},{"x":0.12,"y":2.78},{"x":0.49,"y":1.9},{"x":0.99,"y":4.33},{"x":1.48,"y":1.57},{"x":1.9,"y":3.71},{"x":2.29,"y":1.02},{"x":2.71,"y":0.29},{"x":3.08,"y":0.8},{"x":3.45,"y":3.33},{"x":3.87,"y":4.55},{"x":4.26,"y":3.05},{"x":4.61,"y":4.0},{"x":4.93,"y":3.22},{"x":5.25,"y":3.33},{"x":5.54,"y":2.12}]},
"layer":[{"mark":{"type":"area","interpolate":"monotone","clip":true,"fill":{"gradient":"linear","x1":0,"y1":0,"x2":0,"y2":1,"stops":[{"offset":0,"color":"rgba(150,190,235,0.5)"},{"offset":1,"color":"rgba(250,250,252,0.65)"}]}}},
{"mark":{"type":"line","interpolate":"monotone","clip":true},"encoding":{"color":{"datum":"Acceptor","scale":{"domain":["Core","Pi-bridge","Acceptor","Total"],"range":["#222222","#f2908c","#6ea6ea","#69c088"]}}}}]}
]},
{"spacing":12,"resolve":{"scale":{"color":"independent"},"legend":{"color":"independent"}},"hconcat":[
{"title":"BPDM5","width":281,"height":226,
"encoding":{"x":{"field":"x","type":"quantitative","scale":{"domain":[-15.3,5.5],"nice":false,"zero":false},"axis":{"values":[-15,-10,-5,0,5],"title":"Energy (eV)"}},"y":{"field":"y","type":"quantitative","scale":{"domain":[0,15],"nice":false},"axis":{"values":[0,2,4,6,8,10,12,14],"title":"Relative Intensity"}}},
"layer":[
{"data":{"values":[{"x":-15.4,"y":4.93},{"x":-15.1,"y":4.82},{"x":-14.73,"y":4.98},{"x":-14.31,"y":4.16},{"x":-13.86,"y":4.71},{"x":-13.61,"y":4.93},{"x":-13.24,"y":6.81},{"x":-13.0,"y":8.92},{"x":-12.82,"y":9.03},{"x":-12.43,"y":11.57},{"x":-12.08,"y":9.8},{"x":-11.71,"y":7.7},{"x":-11.39,"y":11.57},{"x":-11.14,"y":14.16},{"x":-10.84,"y":11.57},{"x":-10.59,"y":8.21},{"x":-10.15,"y":12.83},{"x":-9.78,"y":9.91},{"x":-9.53,"y":9.8},{"x":-9.28,"y":7.81},{"x":-8.84,"y":3.21},{"x":-8.47,"y":6.26},{"x":-8.22,"y":6.15},{"x":-7.92,"y":7.7},{"x":-7.62,"y":9.4},{"x":-7.3,"y":8.25},{"x":-6.93,"y":3.6},{"x":-6.68,"y":1.84},{"x":-6.31,"y":0.18},{"x":-5.82,"y":1.44},{"x":-5.2,"y":0},{"x":-3.84,"y":0},{"x":-3.47,"y":1.84},{"x":-3.22,"y":1.95},{"x":-2.85,"y":2.68},{"x":-2.48,"y":1.39},{"x":-2.1,"y":0.62},{"x":-1.73,"y":1.28},{"x":-1.24,"y":1.95},{"x":-0.87,"y":3.27},{"x":-0.54,"y":3.16},{"x":-0.12,"y":4.05},{"x":0.12,"y":3.6},{"x":0.37,"y":4.27},{"x":0.74,"y":6.15},{"x":1.04,"y":5.15},{"x":1.49,"y":6.99},{"x":1.78,"y":4.93},{"x":2.1,"y":3.38},{"x":2.35,"y":5.49},{"x":2.72,"y":8.36},{"x":3.02,"y":8.74},{"x":3.27,"y":10.35},{"x":3.59,"y":8.69},{"x":3.96,"y":10.9},{"x":4.5,"y":14.67},{"x":4.83,"y":13.34},{"x":5.2,"y":7.81},{"x":5.5,"y":4.93}]},
"layer":[{"mark":{"type":"area","interpolate":"monotone","clip":true,"fill":{"gradient":"linear","x1":0,"y1":0,"x2":0,"y2":1,"stops":[{"offset":0,"color":"rgba(140,225,150,0.55)"},{"offset":1,"color":"rgba(255,255,255,0.6)"}]}}},
{"mark":{"type":"line","interpolate":"monotone","clip":true},"encoding":{"color":{"datum":"Total","scale":{"domain":["Core","Pi-bridge","Acceptor","Total"],"range":["#222222","#f2908c","#6ea6ea","#69c088"]},"legend":{"title":null,"orient":"none","legendX":205,"legendY":4,"encode":{"symbols":{"update":{"fill":{"signal":"datum.value==='Core'?'#ececec':datum.value==='Pi-bridge'?'#fde5e3':datum.value==='Acceptor'?'#dde9fb':'#dcf3e2'"},"fillOpacity":{"value":1}}}}}}}}]},
{"data":{"values":[{"x":-15.4,"y":0.2},{"x":-14.88,"y":0.46},{"x":-14.26,"y":1.46},{"x":-13.89,"y":1.6},{"x":-13.75,"y":1.68},{"x":-13.1,"y":0.58},{"x":-12.66,"y":1.24},{"x":-12.3,"y":2.0},{"x":-11.75,"y":1.35},{"x":-11.25,"y":2.6},{"x":-10.68,"y":1.0},{"x":-10.07,"y":0.35},{"x":-9.45,"y":0.18},{"x":-8.83,"y":0.46},{"x":-8.3,"y":2.0},{"x":-7.9,"y":1.73},{"x":-7.47,"y":1.0},{"x":-6.98,"y":0.35},{"x":-6.24,"y":0.02},{"x":-6.0,"y":0},{"x":-3.85,"y":0},{"x":-3.28,"y":0.35},{"x":-2.8,"y":0.84},{"x":-2.17,"y":0.24},{"x":-1.3,"y":0.35},{"x":-0.56,"y":0.35},{"x":0.1,"y":0.69},{"x":1.04,"y":0.18},{"x":1.6,"y":0.8},{"x":2.16,"y":0.35},{"x":2.7,"y":1.35},{"x":3.14,"y":0.58},{"x":3.93,"y":2.17},{"x":4.75,"y":1.0},{"x":5.0,"y":0.69},{"x":5.5,"y":0.75}]},
"layer":[{"mark":{"type":"area","interpolate":"monotone","clip":true,"fill":{"gradient":"linear","x1":0,"y1":0,"x2":0,"y2":1,"stops":[{"offset":0,"color":"rgba(165,165,165,0.35)"},{"offset":1,"color":"rgba(245,245,245,0.4)"}]}}},
{"mark":{"type":"line","interpolate":"monotone","clip":true},"encoding":{"color":{"datum":"Core","scale":{"domain":["Core","Pi-bridge","Acceptor","Total"],"range":["#222222","#f2908c","#6ea6ea","#69c088"]}}}}]},
{"data":{"values":[{"x":-15.4,"y":2.8},{"x":-14.76,"y":1.0},{"x":-14.02,"y":0.9},{"x":-13.52,"y":1.68},{"x":-13.1,"y":1.35},{"x":-12.46,"y":3.9},{"x":-11.92,"y":2.57},{"x":-11.2,"y":5.45},{"x":-10.63,"y":3.45},{"x":-10.15,"y":4.78},{"x":-9.82,"y":3.0},{"x":-9.5,"y":3.63},{"x":-8.83,"y":1.0},{"x":-8.09,"y":0.58},{"x":-7.45,"y":3.63},{"x":-6.86,"y":1.24},{"x":-6.29,"y":0.24},{"x":-5.8,"y":0.9},{"x":-5.25,"y":0.02},{"x":-5.1,"y":0},{"x":-3.85,"y":0},{"x":-3.4,"y":0.58},{"x":-2.78,"y":0.8},{"x":-2.29,"y":0.35},{"x":-1.55,"y":0.58},{"x":-0.8,"y":0.8},{"x":-0.02,"y":2.5},{"x":0.3,"y":1.68},{"x":0.72,"y":3.05},{"x":1.17,"y":0.8},{"x":1.79,"y":4.45},{"x":2.28,"y":1.57},{"x":2.77,"y":2.46},{"x":3.27,"y":4.3},{"x":3.76,"y":3.0},{"x":4.13,"y":2.68},{"x":4.58,"y":4.73},{"x":4.85,"y":4.2},{"x":5.2,"y":4.55},{"x":5.5,"y":3.6}]},
"layer":[{"mark":{"type":"area","interpolate":"monotone","clip":true,"fill":{"gradient":"linear","x1":0,"y1":0,"x2":0,"y2":1,"stops":[{"offset":0,"color":"rgba(245,170,165,0.4)"},{"offset":1,"color":"rgba(250,250,252,0.6)"}]}}},
{"mark":{"type":"line","interpolate":"monotone","clip":true},"encoding":{"color":{"datum":"Pi-bridge","scale":{"domain":["Core","Pi-bridge","Acceptor","Total"],"range":["#222222","#f2908c","#6ea6ea","#69c088"]}}}}]},
{"data":{"values":[{"x":-15.4,"y":1.95},{"x":-15.22,"y":1.88},{"x":-14.68,"y":2.99},{"x":-14.23,"y":1.95},{"x":-13.99,"y":2.06},{"x":-13.66,"y":2.01},{"x":-13.37,"y":4.05},{"x":-13.07,"y":6.64},{"x":-12.67,"y":5.49},{"x":-12.43,"y":5.86},{"x":-12.0,"y":4.93},{"x":-11.63,"y":3.83},{"x":-11.34,"y":4.71},{"x":-11.09,"y":6.44},{"x":-10.64,"y":4.09},{"x":-10.15,"y":7.7},{"x":-9.83,"y":6.7},{"x":-9.41,"y":5.38},{"x":-8.84,"y":1.17},{"x":-8.42,"y":3.6},{"x":-8.17,"y":3.78},{"x":-7.92,"y":4.27},{"x":-7.67,"y":5.15},{"x":-7.3,"y":4.05},{"x":-6.93,"y":1.84},{"x":-6.31,"y":0.18},{"x":-5.82,"y":0.4},{"x":-5.2,"y":0},{"x":-3.84,"y":0},{"x":-3.47,"y":1.28},{"x":-3.22,"y":1.39},{"x":-2.85,"y":1.68},{"x":-2.35,"y":0.4},{"x":-2.1,"y":0.29},{"x":-1.61,"y":0.62},{"x":-0.99,"y":2.54},{"x":-0.69,"y":2.28},{"x":-0.45,"y":2.17},{"x":-0.05,"y":0.73},{"x":0.37,"y":1.84},{"x":0.74,"y":2.61},{"x":1.36,"y":3.87},{"x":1.73,"y":1.17},{"x":1.98,"y":0.33},{"x":2.35,"y":1.84},{"x":2.72,"y":4.54},{"x":3.02,"y":4.82},{"x":3.27,"y":5.49},{"x":3.59,"y":4.54},{"x":3.96,"y":5.82},{"x":4.26,"y":8.36},{"x":4.5,"y":8.69},{"x":4.83,"y":6.7},{"x":5.2,"y":1.39},{"x":5.5,"y":0.66}]},
"layer":[{"mark":{"type":"area","interpolate":"monotone","clip":true,"fill":{"gradient":"linear","x1":0,"y1":0,"x2":0,"y2":1,"stops":[{"offset":0,"color":"rgba(150,190,235,0.5)"},{"offset":1,"color":"rgba(250,250,252,0.65)"}]}}},
{"mark":{"type":"line","interpolate":"monotone","clip":true},"encoding":{"color":{"datum":"Acceptor","scale":{"domain":["Core","Pi-bridge","Acceptor","Total"],"range":["#222222","#f2908c","#6ea6ea","#69c088"]}}}}]}
]},
{"title":"BPDM6","width":281,"height":226,
"encoding":{"x":{"field":"x","type":"quantitative","scale":{"domain":[-15.3,5.5],"nice":false,"zero":false},"axis":{"values":[-15,-10,-5,0,5],"title":"Energy (eV)"}},"y":{"field":"y","type":"quantitative","scale":{"domain":[0,15],"nice":false},"axis":{"values":[0,2,4,6,8,10,12,14],"title":"Relative Intensity"}}},
"layer":[
{"data":{"values":[{"x":-15.4,"y":5.24},{"x":-15.0,"y":5.4},{"x":-14.63,"y":6.56},{"x":-14.25,"y":5.18},{"x":-13.76,"y":6.93},{"x":-13.43,"y":4.84},{"x":-13.18,"y":3.07},{"x":-12.84,"y":4.84},{"x":-12.51,"y":8.4},{"x":-12.31,"y":10.27},{"x":-11.94,"y":8.4},{"x":-11.69,"y":6.51},{"x":-11.22,"y":10.78},{"x":-10.94,"y":8.4},{"x":-10.65,"y":6.07},{"x":-10.07,"y":7.62},{"x":-9.78,"y":6.07},{"x":-9.45,"y":6.13},{"x":-9.15,"y":5.96},{"x":-8.78,"y":5.62},{"x":-8.33,"y":8.91},{"x":-7.91,"y":5.07},{"x":-7.41,"y":7.67},{"x":-7.04,"y":4.4},{"x":-6.79,"y":1.73},{"x":-6.42,"y":0.29},{"x":-5.8,"y":1.4},{"x":-5.05,"y":0},{"x":-4.05,"y":0},{"x":-3.5,"y":1.78},{"x":-3.23,"y":0.67},{"x":-2.8,"y":1.73},{"x":-2.44,"y":3.69},{"x":-1.94,"y":1.18},{"x":-1.69,"y":1.44},{"x":-1.32,"y":1.24},{"x":-0.95,"y":3.18},{"x":-0.45,"y":3.96},{"x":0.25,"y":4.56},{"x":0.55,"y":4.13},{"x":0.75,"y":4.13},{"x":1.18,"y":1.29},{"x":1.43,"y":3.84},{"x":1.8,"y":6.18},{"x":2.18,"y":5.29},{"x":2.68,"y":6.18},{"x":2.93,"y":6.07},{"x":3.18,"y":7.11},{"x":3.43,"y":6.51},{"x":3.85,"y":8.67},{"x":4.25,"y":6.18},{"x":4.55,"y":6.69},{"x":4.93,"y":6.29},{"x":5.25,"y":5.62},{"x":5.5,"y":5.18}]},
"layer":[{"mark":{"type":"area","interpolate":"monotone","clip":true,"fill":{"gradient":"linear","x1":0,"y1":0,"x2":0,"y2":1,"stops":[{"offset":0,"color":"rgba(140,225,150,0.55)"},{"offset":1,"color":"rgba(255,255,255,0.6)"}]}}},
{"mark":{"type":"line","interpolate":"monotone","clip":true},"encoding":{"color":{"datum":"Total","scale":{"domain":["Core","Pi-bridge","Acceptor","Total"],"range":["#222222","#f2908c","#6ea6ea","#69c088"]},"legend":{"title":null,"encode":{"symbols":{"update":{"fill":{"signal":"datum.value==='Core'?'#ececec':datum.value==='Pi-bridge'?'#fde5e3':datum.value==='Acceptor'?'#dde9fb':'#dcf3e2'"},"fillOpacity":{"value":1}}}}}}}}]},
{"data":{"values":[{"x":-15.4,"y":0.2},{"x":-14.88,"y":0.46},{"x":-14.4,"y":1.3},{"x":-14.0,"y":1.4},{"x":-13.75,"y":1.85},{"x":-13.2,"y":0.58},{"x":-12.8,"y":1.24},{"x":-12.45,"y":2.0},{"x":-11.85,"y":1.35},{"x":-11.3,"y":2.6},{"x":-10.75,"y":1.0},{"x":-10.1,"y":0.35},{"x":-9.45,"y":0.18},{"x":-8.9,"y":0.46},{"x":-8.35,"y":2.0},{"x":-7.95,"y":1.73},{"x":-7.5,"y":1.0},{"x":-6.98,"y":0.35},{"x":-6.24,"y":0.02},{"x":-6.0,"y":0},{"x":-4.0,"y":0},{"x":-3.28,"y":0.35},{"x":-2.75,"y":0.84},{"x":-2.17,"y":0.24},{"x":-1.3,"y":0.35},{"x":-0.56,"y":0.35},{"x":0.3,"y":0.69},{"x":1.04,"y":0.18},{"x":1.55,"y":0.8},{"x":2.16,"y":0.35},{"x":2.7,"y":1.35},{"x":3.14,"y":0.58},{"x":3.93,"y":2.17},{"x":4.75,"y":1.0},{"x":5.0,"y":0.69},{"x":5.5,"y":0.75}]},
"layer":[{"mark":{"type":"area","interpolate":"monotone","clip":true,"fill":{"gradient":"linear","x1":0,"y1":0,"x2":0,"y2":1,"stops":[{"offset":0,"color":"rgba(165,165,165,0.35)"},{"offset":1,"color":"rgba(245,245,245,0.4)"}]}}},
{"mark":{"type":"line","interpolate":"monotone","clip":true},"encoding":{"color":{"datum":"Core","scale":{"domain":["Core","Pi-bridge","Acceptor","Total"],"range":["#222222","#f2908c","#6ea6ea","#69c088"]}}}}]},
{"data":{"values":[{"x":-15.4,"y":2.6},{"x":-14.76,"y":1.0},{"x":-14.1,"y":0.65},{"x":-13.6,"y":1.9},{"x":-13.2,"y":1.3},{"x":-12.5,"y":3.6},{"x":-11.92,"y":2.57},{"x":-11.3,"y":5.2},{"x":-10.7,"y":3.45},{"x":-10.15,"y":4.78},{"x":-9.82,"y":3.0},{"x":-9.5,"y":3.5},{"x":-8.83,"y":1.0},{"x":-8.09,"y":0.58},{"x":-7.45,"y":3.63},{"x":-6.86,"y":1.24},{"x":-6.29,"y":0.24},{"x":-5.8,"y":0.9},{"x":-5.25,"y":0.02},{"x":-5.1,"y":0},{"x":-4.0,"y":0},{"x":-3.5,"y":0.5},{"x":-2.78,"y":0.8},{"x":-2.29,"y":0.35},{"x":-1.55,"y":0.58},{"x":-0.8,"y":0.8},{"x":-0.02,"y":2.4},{"x":0.3,"y":1.68},{"x":0.72,"y":3.15},{"x":1.17,"y":0.8},{"x":1.79,"y":4.35},{"x":2.28,"y":1.57},{"x":2.77,"y":2.46},{"x":3.2,"y":4.2},{"x":3.65,"y":3.0},{"x":4.0,"y":2.7},{"x":4.58,"y":4.8},{"x":4.85,"y":4.3},{"x":5.2,"y":3.8},{"x":5.5,"y":3.5}]},
"layer":[{"mark":{"type":"area","interpolate":"monotone","clip":true,"fill":{"gradient":"linear","x1":0,"y1":0,"x2":0,"y2":1,"stops":[{"offset":0,"color":"rgba(245,170,165,0.4)"},{"offset":1,"color":"rgba(250,250,252,0.6)"}]}}},
{"mark":{"type":"line","interpolate":"monotone","clip":true},"encoding":{"color":{"datum":"Pi-bridge","scale":{"domain":["Core","Pi-bridge","Acceptor","Total"],"range":["#222222","#f2908c","#6ea6ea","#69c088"]}}}}]},
{"data":{"values":[{"x":-15.4,"y":2.73},{"x":-15.0,"y":2.62},{"x":-14.63,"y":4.4},{"x":-14.25,"y":2.96},{"x":-13.84,"y":4.4},{"x":-13.51,"y":2.4},{"x":-13.18,"y":0.96},{"x":-12.88,"y":1.73},{"x":-12.26,"y":5.02},{"x":-11.84,"y":3.4},{"x":-11.51,"y":2.4},{"x":-11.22,"y":3.22},{"x":-10.89,"y":2.18},{"x":-10.52,"y":2.24},{"x":-9.78,"y":3.22},{"x":-9.53,"y":2.8},{"x":-9.15,"y":4.18},{"x":-8.78,"y":4.62},{"x":-8.33,"y":6.44},{"x":-7.96,"y":2.4},{"x":-7.66,"y":2.4},{"x":-7.29,"y":4.0},{"x":-6.92,"y":1.73},{"x":-6.42,"y":0.18},{"x":-5.8,"y":0.4},{"x":-5.05,"y":0},{"x":-4.05,"y":0},{"x":-3.5,"y":1.18},{"x":-3.18,"y":0.58},{"x":-2.8,"y":0.96},{"x":-2.44,"y":2.89},{"x":-1.99,"y":0.73},{"x":-1.44,"y":0.73},{"x":-0.95,"y":2.29},{"x":-0.45,"y":2.58},{"x":-0.07,"y":1.18},{"x":0.3,"y":2.07},{"x":0.68,"y":0.84},{"x":1.18,"y":0.11},{"x":1.55,"y":1.18},{"x":2.18,"y":2.96},{"x":2.55,"y":2.62},{"x":2.93,"y":2.18},{"x":3.25,"y":2.36},{"x":3.8,"y":3.07},{"x":4.43,"y":0.73},{"x":4.93,"y":1.29},{"x":5.18,"y":0.96},{"x":5.5,"y":1.18}]},
"layer":[{"mark":{"type":"area","interpolate":"monotone","clip":true,"fill":{"gradient":"linear","x1":0,"y1":0,"x2":0,"y2":1,"stops":[{"offset":0,"color":"rgba(150,190,235,0.5)"},{"offset":1,"color":"rgba(250,250,252,0.65)"}]}}},
{"mark":{"type":"line","interpolate":"monotone","clip":true},"encoding":{"color":{"datum":"Acceptor","scale":{"domain":["Core","Pi-bridge","Acceptor","Total"],"range":["#222222","#f2908c","#6ea6ea","#69c088"]}}}}]}
]},
{"title":"BPDM7","width":281,"height":226,
"encoding":{"x":{"field":"x","type":"quantitative","scale":{"domain":[-15.3,5.5],"nice":false,"zero":false},"axis":{"values":[-15,-10,-5,0,5],"title":"Energy (eV)"}},"y":{"field":"y","type":"quantitative","scale":{"domain":[0,15],"nice":false},"axis":{"values":[0,2,4,6,8,10,12,14],"title":"Relative Intensity"}}},
"layer":[
{"data":{"values":[{"x":-15.35,"y":1.84},{"x":-15.1,"y":2.73},{"x":-14.78,"y":4.02},{"x":-14.36,"y":2.73},{"x":-13.91,"y":5.28},{"x":-13.61,"y":3.84},{"x":-13.24,"y":3.73},{"x":-12.92,"y":2.73},{"x":-12.57,"y":6.72},{"x":-12.18,"y":11.38},{"x":-11.76,"y":9.39},{"x":-11.44,"y":7.83},{"x":-10.97,"y":10.83},{"x":-10.45,"y":7.94},{"x":-10.02,"y":10.94},{"x":-9.65,"y":7.17},{"x":-9.28,"y":10.67},{"x":-8.96,"y":7.17},{"x":-8.54,"y":2.62},{"x":-8.12,"y":4.46},{"x":-7.72,"y":3.28},{"x":-7.13,"y":6.39},{"x":-6.68,"y":3.17},{"x":-6.44,"y":1.18},{"x":-6.06,"y":2.06},{"x":-5.69,"y":1.51},{"x":-5.32,"y":0.4},{"x":-4.95,"y":0},{"x":-3.71,"y":0},{"x":-3.22,"y":1.73},{"x":-2.85,"y":1.07},{"x":-2.1,"y":2.33},{"x":-1.68,"y":1.22},{"x":-1.36,"y":1.44},{"x":-0.99,"y":0.84},{"x":-0.5,"y":4.5},{"x":-0.05,"y":5.17},{"x":0.37,"y":4.88},{"x":0.69,"y":4.39},{"x":1.04,"y":5.5},{"x":1.36,"y":4.84},{"x":1.78,"y":7.5},{"x":2.23,"y":5.39},{"x":2.72,"y":5.21},{"x":3.09,"y":7.83},{"x":3.34,"y":10.1},{"x":3.59,"y":9.5},{"x":3.79,"y":9.78},{"x":4.21,"y":7.61},{"x":4.46,"y":6.06},{"x":4.75,"y":8.0},{"x":4.93,"y":7.83},{"x":5.2,"y":7.0},{"x":5.5,"y":6.5}]},
"layer":[{"mark":{"type":"area","interpolate":"monotone","clip":true,"fill":{"gradient":"linear","x1":0,"y1":0,"x2":0,"y2":1,"stops":[{"offset":0,"color":"rgba(140,225,150,0.55)"},{"offset":1,"color":"rgba(255,255,255,0.6)"}]}}},
{"mark":{"type":"line","interpolate":"monotone","clip":true},"encoding":{"color":{"datum":"Total","scale":{"domain":["Core","Pi-bridge","Acceptor","Total"],"range":["#222222","#f2908c","#6ea6ea","#69c088"]},"legend":{"title":null,"encode":{"symbols":{"update":{"fill":{"signal":"datum.value==='Core'?'#ececec':datum.value==='Pi-bridge'?'#fde5e3':datum.value==='Acceptor'?'#dde9fb':'#dcf3e2'"},"fillOpacity":{"value":1}}}}}}}}]},
{"data":{"values":[{"x":-15.35,"y":0.05},{"x":-14.88,"y":0.46},{"x":-14.3,"y":1.3},{"x":-13.95,"y":1.5},{"x":-13.7,"y":1.8},{"x":-13.15,"y":0.58},{"x":-12.66,"y":1.24},{"x":-12.2,"y":2.0},{"x":-11.7,"y":1.35},{"x":-11.2,"y":2.5},{"x":-10.68,"y":1.0},{"x":-10.07,"y":0.35},{"x":-9.45,"y":0.18},{"x":-8.83,"y":0.46},{"x":-8.2,"y":2.0},{"x":-7.84,"y":1.73},{"x":-7.47,"y":1.0},{"x":-6.98,"y":0.35},{"x":-6.24,"y":0.02},{"x":-6.0,"y":0},{"x":-3.75,"y":0},{"x":-3.2,"y":0.35},{"x":-2.65,"y":0.84},{"x":-2.17,"y":0.24},{"x":-1.3,"y":0.35},{"x":-0.56,"y":0.35},{"x":0.3,"y":0.69},{"x":1.04,"y":0.18},{"x":1.66,"y":0.8},{"x":2.16,"y":0.35},{"x":2.75,"y":1.4},{"x":3.14,"y":0.58},{"x":3.93,"y":2.17},{"x":4.75,"y":1.0},{"x":5.0,"y":0.69},{"x":5.5,"y":0.75}]},
"layer":[{"mark":{"type":"area","interpolate":"monotone","clip":true,"fill":{"gradient":"linear","x1":0,"y1":0,"x2":0,"y2":1,"stops":[{"offset":0,"color":"rgba(165,165,165,0.35)"},{"offset":1,"color":"rgba(245,245,245,0.4)"}]}}},
{"mark":{"type":"line","interpolate":"monotone","clip":true},"encoding":{"color":{"datum":"Core","scale":{"domain":["Core","Pi-bridge","Acceptor","Total"],"range":["#222222","#f2908c","#6ea6ea","#69c088"]}}}}]},
{"data":{"values":[{"x":-15.35,"y":1.84},{"x":-14.85,"y":2.73},{"x":-14.3,"y":0.9},{"x":-14.0,"y":0.9},{"x":-13.55,"y":2.0},{"x":-13.1,"y":1.35},{"x":-12.4,"y":3.7},{"x":-11.92,"y":2.57},{"x":-11.1,"y":5.3},{"x":-10.63,"y":3.45},{"x":-10.07,"y":4.78},{"x":-9.82,"y":3.0},{"x":-9.45,"y":3.5},{"x":-8.83,"y":1.0},{"x":-8.09,"y":0.58},{"x":-7.3,"y":3.63},{"x":-6.86,"y":1.24},{"x":-6.29,"y":0.24},{"x":-5.74,"y":0.9},{"x":-5.25,"y":0.02},{"x":-5.1,"y":0},{"x":-3.75,"y":0},{"x":-3.3,"y":0.58},{"x":-2.7,"y":0.8},{"x":-2.29,"y":0.35},{"x":-1.55,"y":0.58},{"x":-0.8,"y":0.8},{"x":-0.02,"y":2.4},{"x":0.3,"y":1.68},{"x":0.72,"y":3.1},{"x":1.17,"y":0.8},{"x":1.79,"y":4.4},{"x":2.28,"y":1.57},{"x":2.77,"y":2.46},{"x":3.27,"y":4.3},{"x":3.76,"y":3.0},{"x":4.13,"y":2.68},{"x":4.58,"y":4.6},{"x":4.85,"y":4.3},{"x":5.1,"y":4.5},{"x":5.5,"y":3.6}]},
"layer":[{"mark":{"type":"area","interpolate":"monotone","clip":true,"fill":{"gradient":"linear","x1":0,"y1":0,"x2":0,"y2":1,"stops":[{"offset":0,"color":"rgba(245,170,165,0.4)"},{"offset":1,"color":"rgba(250,250,252,0.6)"}]}}},
{"mark":{"type":"line","interpolate":"monotone","clip":true},"encoding":{"color":{"datum":"Pi-bridge","scale":{"domain":["Core","Pi-bridge","Acceptor","Total"],"range":["#222222","#f2908c","#6ea6ea","#69c088"]}}}}]},
{"data":{"values":[{"x":-15.35,"y":0},{"x":-15.1,"y":0.29},{"x":-14.78,"y":1.07},{"x":-14.4,"y":0.62},{"x":-14.23,"y":0.95},{"x":-13.91,"y":3.22},{"x":-13.61,"y":0.95},{"x":-13.24,"y":0.62},{"x":-12.87,"y":0.84},{"x":-12.5,"y":3.62},{"x":-12.13,"y":6.06},{"x":-11.68,"y":4.5},{"x":-11.26,"y":2.51},{"x":-10.89,"y":3.62},{"x":-10.45,"y":3.73},{"x":-10.07,"y":5.72},{"x":-9.7,"y":3.84},{"x":-9.23,"y":7.12},{"x":-8.91,"y":3.84},{"x":-8.54,"y":1.07},{"x":-8.17,"y":1.95},{"x":-7.8,"y":0.84},{"x":-7.43,"y":0.51},{"x":-6.98,"y":3.35},{"x":-6.56,"y":0.95},{"x":-6.19,"y":1.51},{"x":-5.82,"y":0.29},{"x":-5.45,"y":0.29},{"x":-4.95,"y":0},{"x":-3.71,"y":0},{"x":-3.22,"y":0.91},{"x":-2.85,"y":0.29},{"x":-2.1,"y":1.62},{"x":-1.68,"y":0.51},{"x":-1.24,"y":0.62},{"x":-0.87,"y":0.29},{"x":-0.3,"y":3.51},{"x":0.12,"y":2.17},{"x":0.5,"y":1.89},{"x":0.74,"y":1.29},{"x":1.24,"y":3.62},{"x":1.61,"y":2.73},{"x":1.93,"y":2.17},{"x":2.35,"y":3.0},{"x":2.72,"y":1.84},{"x":3.02,"y":3.4},{"x":3.34,"y":5.21},{"x":3.71,"y":4.84},{"x":4.08,"y":3.62},{"x":4.41,"y":1.29},{"x":4.7,"y":2.51},{"x":4.93,"y":2.73},{"x":5.2,"y":2.0},{"x":5.5,"y":1.5}]},
"layer":[{"mark":{"type":"area","interpolate":"monotone","clip":true,"fill":{"gradient":"linear","x1":0,"y1":0,"x2":0,"y2":1,"stops":[{"offset":0,"color":"rgba(150,190,235,0.5)"},{"offset":1,"color":"rgba(250,250,252,0.65)"}]}}},
{"mark":{"type":"line","interpolate":"monotone","clip":true},"encoding":{"color":{"datum":"Acceptor","scale":{"domain":["Core","Pi-bridge","Acceptor","Total"],"range":["#222222","#f2908c","#6ea6ea","#69c088"]}}}}]}
]}
]}
]}
]
}
